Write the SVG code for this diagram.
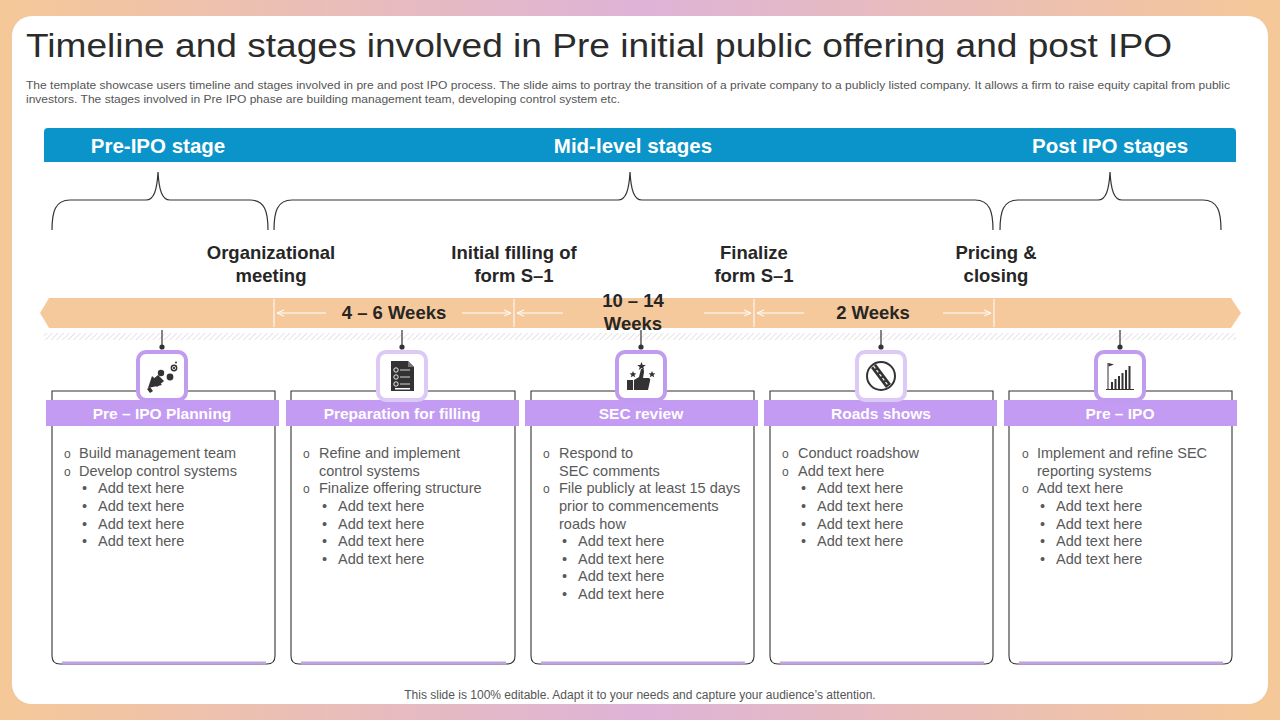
<svg xmlns="http://www.w3.org/2000/svg" width="1280" height="720" viewBox="0 0 1280 720">
<defs>
<linearGradient id="bg" x1="0" y1="0" x2="1" y2="0">
<stop offset="0" stop-color="#F5C898"/>
<stop offset="0.5" stop-color="#DEB3D7"/>
<stop offset="1" stop-color="#F5C898"/>
</linearGradient>
<pattern id="hatch" width="4" height="4" patternUnits="userSpaceOnUse" patternTransform="rotate(45)">
<rect width="4" height="4" fill="#FFFFFF"/>
<line x1="0" y1="0" x2="0" y2="4" stroke="#D9D9D9" stroke-width="1.4"/>
</pattern>
<marker id="ah" viewBox="0 0 8 8" refX="7" refY="4" markerWidth="8" markerHeight="8" orient="auto-start-reverse" markerUnits="userSpaceOnUse">
<path d="M0,1 L7,4 L0,7" fill="none" stroke="#FFFFFF" stroke-width="1"/>
</marker>
</defs>
<style>
text{font-family:"Liberation Sans",Arial,sans-serif}
.title{font-size:34px;fill:#2B2B2B}
.desc{font-size:11px;fill:#555555}
.band{font-size:20.5px;font-weight:bold;fill:#FFFFFF}
.stage{font-size:18.5px;font-weight:bold;fill:#262626;text-anchor:middle}
.wk{font-size:18.5px;font-weight:bold;fill:#262626;text-anchor:middle}
.hdr{font-size:15.5px;font-weight:bold;fill:#FFFFFF;text-anchor:middle}
.body{font-size:14.5px;fill:#595959}
.o{font-size:12px;fill:#595959}
.brace{fill:none;stroke:#333333;stroke-width:1.2}
.outline{fill:#FFFFFF;stroke:#333333;stroke-width:1.1}
.hbar{fill:#C39BF2}
.uline{stroke:#BFA2E0;stroke-width:3}
.ibox{fill:#FFFFFF;stroke:#C09BEE;stroke-width:4}
.ibox2{fill:#FFFFFF;stroke:#DCC9F6;stroke-width:4}
.conn{stroke:#333333;stroke-width:1.2}
.dot{fill:#333333}
.div{stroke:#FFFFFF;stroke-width:1}
.arr{stroke:#FFFFFF;stroke-width:1;marker-end:url(#ah)}
.ic{fill:#333333}
.foot{font-size:12px;fill:#555555;text-anchor:middle}
</style>

<rect x="0" y="0" width="1280" height="720" fill="url(#bg)"/>
<rect x="12" y="16" width="1256" height="688" rx="20" fill="#FFFFFF"/>

<g id="title">
<text class="title" x="26" y="57" textLength="1146" lengthAdjust="spacingAndGlyphs">Timeline and stages involved in Pre initial public offering and post IPO</text>
<text class="desc" x="26" y="89" textLength="1204" lengthAdjust="spacingAndGlyphs">The template showcase users timeline and stages involved in pre and post IPO process. The slide aims to portray the transition of a private company to  a publicly listed company. It allows a firm to raise equity capital from public</text>
<text class="desc" x="26" y="103" textLength="594" lengthAdjust="spacingAndGlyphs">investors. The stages involved in Pre IPO phase are building management team, developing control system etc.</text>
</g>

<g id="banner">
<path d="M44,162 L44,132 Q44,128 48,128 L1232,128 Q1236,128 1236,132 L1236,162 Z" fill="#0B94CA"/>
<text class="band" x="158" y="152.5" text-anchor="middle">Pre-IPO stage</text>
<text class="band" x="633" y="152.5" text-anchor="middle">Mid-level stages</text>
<text class="band" x="1110" y="152.5" text-anchor="middle">Post IPO stages</text>
</g>

<g id="braces">
<path class="brace" d="M52,230 C52,212 55,200 70,200 L146,200 C154,200 157,190 158,172 C159,190 162,200 170,200 L250,200 C265,200 268,212 268,230"/>
<path class="brace" d="M274,230 C274,212 277,200 292,200 L618,200 C626,200 629,190 630,172 C631,190 634,200 642,200 L975,200 C990,200 993,212 993,230"/>
<path class="brace" d="M1000,230 C1000,212 1003,200 1018,200 L1098,200 C1106,200 1109,190 1110,172 C1111,190 1114,200 1122,200 L1203,200 C1218,200 1221,212 1221,230"/>
</g>

<g id="stages">
<text class="stage" x="271" y="259">Organizational</text>
<text class="stage" x="271" y="282">meeting</text>
<text class="stage" x="514" y="259">Initial filling of</text>
<text class="stage" x="514" y="282">form S–1</text>
<text class="stage" x="754" y="259">Finalize</text>
<text class="stage" x="754" y="282">form S–1</text>
<text class="stage" x="996" y="259">Pricing &amp;</text>
<text class="stage" x="996" y="282">closing</text>
</g>

<g id="timeline">
<polygon points="40,313 49,298 1231,298 1241,313 1231,328 49,328" fill="#F5C99B"/>
<rect x="44" y="333" width="1192" height="7" fill="url(#hatch)"/>
<line class="div" x1="274" y1="299" x2="274" y2="327"/>
<line class="div" x1="514" y1="299" x2="514" y2="327"/>
<line class="div" x1="754" y1="299" x2="754" y2="327"/>
<line class="div" x1="994" y1="299" x2="994" y2="327"/>
<line class="arr" x1="326" y1="313" x2="277" y2="313"/>
<line class="arr" x1="462" y1="313" x2="511" y2="313"/>
<line class="arr" x1="563" y1="313" x2="517" y2="313"/>
<line class="arr" x1="704" y1="313" x2="751" y2="313"/>
<line class="arr" x1="804" y1="313" x2="757" y2="313"/>
<line class="arr" x1="943" y1="313" x2="991" y2="313"/>
<text class="wk" x="394" y="319">4 – 6 Weeks</text>
<text class="wk" x="633" y="307">10 – 14</text>
<text class="wk" x="633" y="330">Weeks</text>
<text class="wk" x="873" y="319">2 Weeks</text>
</g>

<g id="connectors">
<line class="conn" x1="162" y1="330" x2="162" y2="347"/><circle class="dot" cx="162" cy="347" r="2.6"/>
<line class="conn" x1="402" y1="330" x2="402" y2="347"/><circle class="dot" cx="402" cy="347" r="2.6"/>
<line class="conn" x1="641" y1="330" x2="641" y2="347"/><circle class="dot" cx="641" cy="347" r="2.6"/>
<line class="conn" x1="881" y1="330" x2="881" y2="347"/><circle class="dot" cx="881" cy="347" r="2.6"/>
<line class="conn" x1="1120" y1="330" x2="1120" y2="347"/><circle class="dot" cx="1120" cy="347" r="2.6"/>
</g>

<g id="card1">
<path class="outline" d="M52,391 L52,656 Q52,664 60,664 L267,664 Q275,664 275,656 L275,391 Z"/>
<line class="uline" x1="62" y1="663" x2="266" y2="663"/>
<rect class="hbar" x="46" y="400" width="233" height="26"/>
<text class="hdr" x="162" y="418.5">Pre – IPO Planning</text>
<rect class="ibox" x="138" y="352" width="48" height="48" rx="8"/>
<path class="ic" d="M148,388 L152,376 L162,385 Z"/>
<path class="ic" d="M151,381 L158,375 L164,381 L157,387 Z"/>
<path class="ic" d="M147,389 L150,393 L153,391 L150,387 Z"/>
<circle class="ic" cx="161" cy="373" r="3.2"/>
<circle class="ic" cx="170" cy="377" r="3.4"/>
<circle class="ic" cx="174" cy="368" r="3.4"/>
<circle cx="174" cy="368" r="1.6" fill="none" stroke="#FFFFFF" stroke-width="0.8"/>
<circle class="ic" cx="176" cy="362.5" r="1"/>
<text class="o" x="64" y="458">o</text><text class="body" x="79" y="458">Build management team</text>
<text class="o" x="64" y="476">o</text><text class="body" x="79" y="476">Develop control systems</text>
<text class="body" x="82" y="493">•</text><text class="body" x="98" y="493">Add text here</text>
<text class="body" x="82" y="511">•</text><text class="body" x="98" y="511">Add text here</text>
<text class="body" x="82" y="529">•</text><text class="body" x="98" y="529">Add text here</text>
<text class="body" x="82" y="546">•</text><text class="body" x="98" y="546">Add text here</text>
</g>

<g id="card2">
<path class="outline" d="M291,391 L291,656 Q291,664 299,664 L507,664 Q515,664 515,656 L515,391 Z"/>
<line class="uline" x1="301" y1="663" x2="506" y2="663"/>
<rect class="hbar" x="286" y="400" width="233" height="26"/>
<text class="hdr" x="402" y="418.5">Preparation for filling</text>
<rect class="ibox2" x="378" y="352" width="48" height="48" rx="8"/>
<path class="ic" d="M391,361 L408,361 L414,367 L414,391 L391,391 Z"/>
<path d="M408,361 L408,367 L414,367" fill="#777777"/>
<circle cx="396" cy="370" r="2.2" fill="none" stroke="#FFFFFF" stroke-width="0.9"/>
<circle cx="396" cy="377" r="2.2" fill="none" stroke="#FFFFFF" stroke-width="0.9"/>
<circle cx="396" cy="384" r="2.2" fill="none" stroke="#FFFFFF" stroke-width="0.9"/>
<line x1="400" y1="370" x2="410" y2="370" stroke="#FFFFFF" stroke-width="0.8"/>
<line x1="400" y1="377" x2="410" y2="377" stroke="#FFFFFF" stroke-width="0.8"/>
<line x1="400" y1="384" x2="410" y2="384" stroke="#FFFFFF" stroke-width="0.8"/>
<rect x="395" y="388" width="15" height="1.5" fill="#FFFFFF"/>
<text class="o" x="303" y="458">o</text><text class="body" x="319" y="458">Refine and implement</text>
<text class="body" x="319" y="476">control systems</text>
<text class="o" x="303" y="493">o</text><text class="body" x="319" y="493">Finalize offering structure</text>
<text class="body" x="322" y="511">•</text><text class="body" x="338" y="511">Add text here</text>
<text class="body" x="322" y="529">•</text><text class="body" x="338" y="529">Add text here</text>
<text class="body" x="322" y="546">•</text><text class="body" x="338" y="546">Add text here</text>
<text class="body" x="322" y="564">•</text><text class="body" x="338" y="564">Add text here</text>
</g>

<g id="card3">
<path class="outline" d="M531,391 L531,656 Q531,664 539,664 L746,664 Q754,664 754,656 L754,391 Z"/>
<line class="uline" x1="541" y1="663" x2="745" y2="663"/>
<rect class="hbar" x="525" y="400" width="233" height="26"/>
<text class="hdr" x="641" y="418.5">SEC review</text>
<rect class="ibox" x="617" y="352" width="48" height="48" rx="8"/>
<rect class="ic" x="627" y="380" width="6" height="10"/>
<path class="ic" d="M634,380 L639,377 L641,369 Q644,368 644,372 L643,378 L649,378 Q651,379 650,381 L648,390 L634,390 Z"/>
<polygon class="ic" points="641.5,362 642.7,365 645.8,365 643.3,366.9 644.2,369.9 641.5,368.1 638.8,369.9 639.7,366.9 637.2,365 640.3,365"/>
<polygon class="ic" points="633,371 634,373.3 636.4,373.4 634.5,375 635.2,377.3 633,376 630.8,377.3 631.5,375 629.6,373.4 632,373.3"/>
<polygon class="ic" points="652,371 653,373.3 655.4,373.4 653.5,375 654.2,377.3 652,376 649.8,377.3 650.5,375 648.6,373.4 651,373.3"/>
<text class="o" x="543" y="458">o</text><text class="body" x="559" y="458">Respond to</text>
<text class="body" x="559" y="476">SEC comments</text>
<text class="o" x="543" y="493">o</text><text class="body" x="559" y="493">File publicly at least 15 days</text>
<text class="body" x="559" y="511">prior to commencements</text>
<text class="body" x="559" y="529">roads how</text>
<text class="body" x="562" y="546">•</text><text class="body" x="578" y="546">Add text here</text>
<text class="body" x="562" y="564">•</text><text class="body" x="578" y="564">Add text here</text>
<text class="body" x="562" y="581">•</text><text class="body" x="578" y="581">Add text here</text>
<text class="body" x="562" y="599">•</text><text class="body" x="578" y="599">Add text here</text>
</g>

<g id="card4">
<path class="outline" d="M770,391 L770,656 Q770,664 778,664 L985,664 Q993,664 993,656 L993,391 Z"/>
<line class="uline" x1="780" y1="663" x2="984" y2="663"/>
<rect class="hbar" x="764" y="400" width="233" height="26"/>
<text class="hdr" x="881" y="418.5">Roads shows</text>
<rect class="ibox2" x="857" y="352" width="48" height="48" rx="8"/>
<circle cx="881" cy="376" r="14" fill="none" stroke="#333333" stroke-width="2"/>
<path class="ic" d="M871,368 L876,364 L891,384 L886,388 Z"/>
<line x1="873.5" y1="366" x2="888.5" y2="386" stroke="#FFFFFF" stroke-width="1.2" stroke-dasharray="3 2"/>
<text class="o" x="782" y="458">o</text><text class="body" x="798" y="458">Conduct roadshow</text>
<text class="o" x="782" y="476">o</text><text class="body" x="798" y="476">Add text here</text>
<text class="body" x="801" y="493">•</text><text class="body" x="817" y="493">Add text here</text>
<text class="body" x="801" y="511">•</text><text class="body" x="817" y="511">Add text here</text>
<text class="body" x="801" y="529">•</text><text class="body" x="817" y="529">Add text here</text>
<text class="body" x="801" y="546">•</text><text class="body" x="817" y="546">Add text here</text>
</g>

<g id="card5">
<path class="outline" d="M1009,391 L1009,656 Q1009,664 1017,664 L1224,664 Q1232,664 1232,656 L1232,391 Z"/>
<line class="uline" x1="1019" y1="663" x2="1223" y2="663"/>
<rect class="hbar" x="1004" y="400" width="233" height="26"/>
<text class="hdr" x="1120" y="418.5">Pre – IPO</text>
<rect class="ibox" x="1096" y="352" width="48" height="48" rx="8"/>
<line x1="1106" y1="389.5" x2="1134" y2="389.5" stroke="#333333" stroke-width="1"/>
<line x1="1108" y1="363" x2="1108" y2="389" stroke="#333333" stroke-width="1"/>
<path class="ic" d="M1108.5,363 L1114,364.5 L1108.5,366.5 Z"/>
<rect class="ic" x="1111" y="382" width="2" height="7"/>
<rect class="ic" x="1114.5" y="379" width="2" height="10"/>
<rect class="ic" x="1118" y="376" width="2" height="13"/>
<rect class="ic" x="1121.5" y="373" width="2" height="16"/>
<rect class="ic" x="1125" y="370" width="2" height="19"/>
<rect class="ic" x="1128.5" y="366" width="2" height="23"/>
<text class="o" x="1022" y="458">o</text><text class="body" x="1037" y="458">Implement and refine SEC</text>
<text class="body" x="1037" y="476">reporting systems</text>
<text class="o" x="1022" y="493">o</text><text class="body" x="1037" y="493">Add text here</text>
<text class="body" x="1040" y="511">•</text><text class="body" x="1056" y="511">Add text here</text>
<text class="body" x="1040" y="529">•</text><text class="body" x="1056" y="529">Add text here</text>
<text class="body" x="1040" y="546">•</text><text class="body" x="1056" y="546">Add text here</text>
<text class="body" x="1040" y="564">•</text><text class="body" x="1056" y="564">Add text here</text>
</g>

<text class="foot" x="640" y="699">This slide is 100% editable. Adapt it to your needs and capture your audience’s attention.</text>
</svg>
